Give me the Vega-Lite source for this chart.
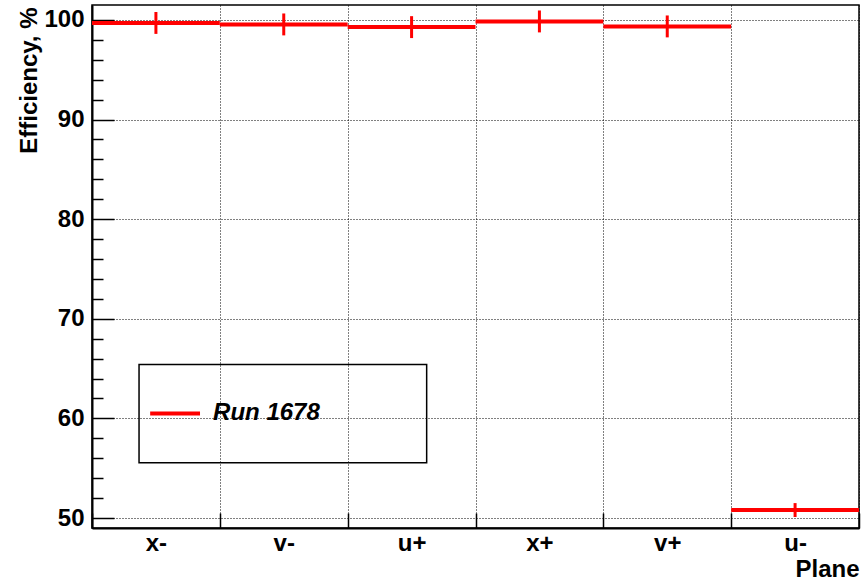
{
  "$schema": "https://vega.github.io/schema/vega-lite/v6.json",
  "autosize": {"type": "none"},
  "padding": {"left": 92, "top": 5, "right": 3, "bottom": 53},
  "width": 767,
  "height": 523,
  "background": "#ffffff",
  "config": {
    "font": "Liberation Sans",
    "view": {"stroke": "#000000", "strokeWidth": 1.5},
    "axis": {
      "domainColor": "#000000",
      "domainWidth": 2,
      "tickColor": "#000000",
      "tickWidth": 1.5,
      "gridColor": "#000000",
      "gridDash": [1, 2],
      "gridWidth": 1,
      "gridOpacity": 1,
      "labelColor": "#000000",
      "labelFont": "Liberation Sans",
      "labelFontSize": 24,
      "labelFontWeight": "bold",
      "titleColor": "#000000",
      "titleFont": "Liberation Sans",
      "titleFontSize": 24,
      "titleFontWeight": "bold",
      "labelOverlap": false,
      "labelFlush": false,
      "labelBound": false
    }
  },
  "resolve": {"scale": {"x": "independent", "y": "independent"}, "axis": {"x": "independent", "y": "independent"}},
  "layer": [
    {
      "data": {
        "values": [
          {"plane": "x-", "eff": 99.7, "err": 1.1},
          {"plane": "v-", "eff": 99.55, "err": 1.1},
          {"plane": "u+", "eff": 99.28, "err": 1.1},
          {"plane": "x+", "eff": 99.85, "err": 1.1},
          {"plane": "v+", "eff": 99.35, "err": 1.1},
          {"plane": "u-", "eff": 50.8, "err": 0.7}
        ]
      },
      "resolve": {"axis": {"y": "independent"}},
      "layer": [
        {
          "mark": {"type": "tick", "orient": "horizontal", "thickness": 4, "size": 127.8, "color": "#ff0000", "opacity": 1},
          "encoding": {
            "x": {
              "field": "plane",
              "type": "nominal",
              "sort": null,
              "scale": {"type": "band", "paddingInner": 0, "paddingOuter": 0},
              "axis": {
                "title": "Plane",
                "labelAngle": 0,
                "tickBand": "extent",
                "tickSize": -15,
                "labelPadding": 37,
                "labelBaseline": "alphabetic",
                "grid": true,
                "titleAnchor": "end",
                "titleAlign": "right",
                "titleBaseline": "alphabetic",
                "titleX": 767,
                "titleY": 48
              }
            },
            "y": {
              "field": "eff",
              "type": "quantitative",
              "scale": {"domain": [49, 101.5], "nice": false, "zero": false},
              "axis": {
                "orient": "left",
                "title": "Efficiency, %",
                "values": [50, 60, 70, 80, 90, 100],
                "tickSize": -22,
                "grid": true,
                "labelPadding": 30,
                "titleAngle": -90,
                "titleAnchor": "end",
                "titleAlign": "right",
                "titleBaseline": "alphabetic",
                "titleX": -56,
                "titleY": 2
              }
            }
          }
        },
        {
          "mark": {"type": "errorbar", "ticks": false, "color": "#ff0000", "thickness": 3},
          "encoding": {
            "x": {"field": "plane", "type": "nominal", "sort": null, "scale": {"type": "band", "paddingInner": 0, "paddingOuter": 0}},
            "y": {
              "field": "eff",
              "type": "quantitative",
              "axis": {
                "orient": "left",
                "title": null,
                "values": [52, 54, 56, 58, 62, 64, 66, 68, 72, 74, 76, 78, 82, 84, 86, 88, 92, 94, 96, 98],
                "labels": false,
                "grid": false,
                "domain": false,
                "tickSize": -11
              }
            },
            "yError": {"field": "err"}
          }
        }
      ]
    },
    {
      "data": {"values": [{}]},
      "layer": [
        {
          "mark": {"type": "rect", "fill": null, "fillOpacity": 0, "stroke": "#000000", "strokeWidth": 1.5},
          "encoding": {
            "x": {"datum": 0.368, "type": "quantitative", "scale": {"domain": [0, 6], "nice": false, "zero": false}, "axis": null},
            "x2": {"datum": 2.618},
            "y": {"datum": 65.4, "type": "quantitative", "scale": {"domain": [49, 101.5], "nice": false, "zero": false}, "axis": null},
            "y2": {"datum": 55.56}
          }
        },
        {
          "mark": {"type": "rule", "color": "#ff0000", "strokeWidth": 4},
          "encoding": {
            "x": {"datum": 0.455, "type": "quantitative"},
            "x2": {"datum": 0.845},
            "y": {"datum": 60.5, "type": "quantitative"}
          }
        },
        {
          "mark": {"type": "text", "text": "Run 1678", "align": "left", "baseline": "middle", "font": "Liberation Sans", "fontSize": 24, "fontStyle": "italic", "fontWeight": "bold", "color": "#000000"},
          "encoding": {
            "x": {"datum": 0.947, "type": "quantitative"},
            "y": {"datum": 60.5, "type": "quantitative"}
          }
        }
      ]
    }
  ]
}
